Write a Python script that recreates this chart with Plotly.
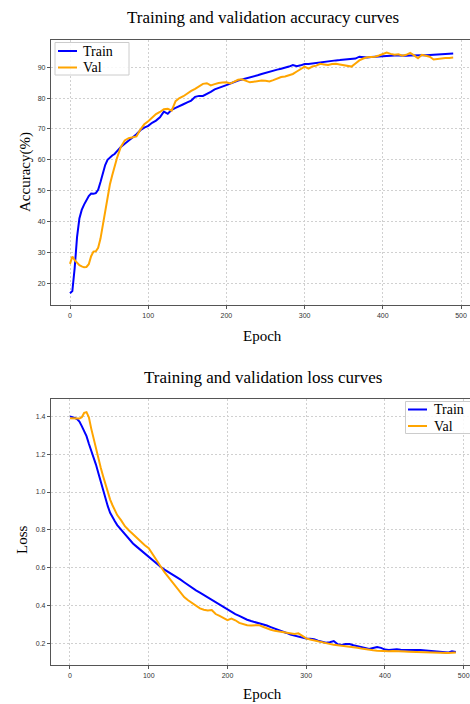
import plotly.graph_objects as go

W, H = 470, 704

epochs = list(range(0, 61, 3)) + list(range(65, 491, 5))

# ---------------- Accuracy (%) ----------------
train_acc = [
    # 0..60 step 3
    16.8, 17.5, 25.0, 35.0, 41.0, 43.8, 45.5, 47.0, 48.3, 49.1, 49.0,
    49.2, 50.3, 52.8, 55.8, 58.3, 60.0, 60.8, 61.4, 61.9, 62.8,
    # 65..110
    64.2, 65.2, 66.1, 67.2, 68.3, 69.6, 70.4, 71.0, 72.0, 72.7,
    # 115..160
    73.8, 75.6, 74.9, 76.2, 76.8, 77.5, 78.0, 78.6, 79.2, 80.4,
    # 165..210
    80.7, 80.7, 81.3, 82.0, 82.8, 83.2, 83.8, 84.2, 84.7, 85.3,
    # 215..260
    85.7, 86.0, 86.3, 86.8, 87.1, 87.4, 87.8, 88.2, 88.5, 89.0,
    # 265..310
    89.2, 89.5, 89.8, 90.2, 90.7, 90.3, 90.6, 91.0, 91.0, 91.2,
    # 315..360
    91.3, 91.6, 91.8, 92.0, 92.2, 92.2, 92.3, 92.4, 92.5, 92.5,
    # 365..410
    92.8, 93.4, 93.2, 93.1, 93.3, 93.4, 93.4, 93.6, 93.8, 93.8,
    # 415..460
    93.8, 93.8, 93.7, 93.7, 93.8, 93.9, 93.9, 93.9, 93.9, 94.0,
    # 465..490
    94.1, 94.1, 94.1, 94.2, 94.3, 94.4,
]
val_acc = [
    # 0..60 step 3
    26.3, 28.7, 27.5, 26.5, 25.9, 25.5, 25.2, 25.3, 26.2, 28.8, 30.3,
    30.4, 31.5, 34.5, 39.0, 43.5, 48.0, 52.0, 55.0, 58.2, 60.5,
    # 65..110
    64.2, 66.3, 67.0, 67.2, 67.6, 69.8, 71.5, 72.5, 73.8, 74.8,
    # 115..160
    75.5, 76.4, 76.5, 75.9, 79.0, 80.0, 80.6, 81.5, 82.3, 83.0,
    # 165..210
    83.8, 84.6, 84.8, 84.1, 84.5, 84.9, 85.0, 85.1, 84.7, 85.3,
    # 215..260
    85.9, 86.1, 85.7, 85.1, 85.3, 85.6, 85.7, 85.6, 85.4, 85.8,
    # 265..310
    86.4, 86.8, 87.0, 87.3, 87.8, 88.6, 89.4, 90.2, 89.5, 90.2,
    # 315..360
    90.5, 91.1, 90.9, 90.7, 91.0, 91.1, 90.9, 90.7, 90.5, 90.2,
    # 365..410
    91.2, 92.2, 92.8, 93.2, 93.3, 93.4, 93.8, 94.3, 94.7, 94.3,
    # 415..460
    94.0, 94.2, 93.7, 94.0, 94.6, 93.8, 92.9, 94.0, 93.8, 93.4,
    # 465..490
    92.5, 92.7, 92.9, 93.0, 93.0, 93.1,
]

# ---------------- Loss ----------------
train_loss = [
    # 0..60 step 3
    1.400, 1.398, 1.392, 1.385, 1.372, 1.348, 1.325, 1.295, 1.255, 1.220, 1.185,
    1.145, 1.100, 1.055, 1.010, 0.965, 0.925, 0.890, 0.865, 0.845, 0.825,
    # 65..110
    0.800, 0.775, 0.750, 0.728, 0.710, 0.692, 0.672, 0.655, 0.640, 0.622,
    # 115..160
    0.605, 0.590, 0.578, 0.563, 0.552, 0.538, 0.523, 0.508, 0.493, 0.480,
    # 165..210
    0.468, 0.455, 0.443, 0.430, 0.418, 0.405, 0.392, 0.380, 0.368, 0.355,
    # 215..260
    0.345, 0.333, 0.325, 0.318, 0.313, 0.306, 0.300, 0.294, 0.286, 0.279,
    # 265..310
    0.272, 0.263, 0.255, 0.246, 0.240, 0.234, 0.229, 0.226, 0.224, 0.222,
    # 315..360
    0.214, 0.208, 0.203, 0.206, 0.212, 0.195, 0.192, 0.196, 0.196, 0.190,
    # 365..410
    0.184, 0.180, 0.173, 0.170, 0.175, 0.180, 0.176, 0.167, 0.165, 0.167,
    # 415..460
    0.169, 0.166, 0.165, 0.166, 0.165, 0.165, 0.165, 0.163, 0.162, 0.160,
    # 465..490
    0.158, 0.156, 0.153, 0.151, 0.158, 0.154,
]
val_loss = [
    # 0..60 step 3
    1.390, 1.389, 1.388, 1.387, 1.388, 1.395, 1.418, 1.422, 1.395, 1.335, 1.280,
    1.230, 1.180, 1.130, 1.085, 1.040, 1.000, 0.960, 0.930, 0.900, 0.878,
    # 65..110
    0.850, 0.818, 0.797, 0.778, 0.757, 0.735, 0.718, 0.703, 0.670, 0.635,
    # 115..160
    0.605, 0.576, 0.550, 0.525, 0.495, 0.470, 0.445, 0.428, 0.413, 0.398,
    # 165..210
    0.385, 0.378, 0.374, 0.376, 0.355, 0.345, 0.335, 0.323, 0.331, 0.322,
    # 215..260
    0.308, 0.300, 0.296, 0.295, 0.295, 0.296, 0.288, 0.278, 0.272, 0.267,
    # 265..310
    0.264, 0.262, 0.260, 0.255, 0.250, 0.253, 0.240, 0.226, 0.220, 0.215,
    # 315..360
    0.210, 0.206, 0.202, 0.198, 0.192, 0.190, 0.188, 0.186, 0.183, 0.180,
    # 365..410
    0.177, 0.173, 0.169, 0.166, 0.163, 0.161, 0.159, 0.157, 0.158, 0.160,
    # 415..460
    0.158, 0.157, 0.157, 0.156, 0.155, 0.155, 0.154, 0.153, 0.152, 0.151,
    # 465..490
    0.151, 0.150, 0.148, 0.149, 0.150, 0.151,
]

x_ticks = [0, 100, 200, 300, 400, 500]
acc_ticks = [20, 30, 40, 50, 60, 70, 80, 90]
loss_ticks = [0.2, 0.4, 0.6, 0.8, 1.0, 1.2, 1.4]
loss_tick_text = ["0.2", "0.4", "0.6", "0.8", "1.0", "1.2", "1.4"]

TITLES = ["Training and validation accuracy curves", "Training and validation loss curves"]
SERIES_NAMES = ["Train", "Val"]

BLUE = "#0000ff"
ORANGE = "#ffa500"
COLORS = [BLUE, ORANGE]
SERIF = "Liberation Serif, Times New Roman, serif"
SANS = "Liberation Sans, Arial, sans-serif"


def px_x(p):
    return p / W


def px_y(p):
    return 1 - p / H


fig = go.Figure()

fig.add_trace(go.Scatter(x=epochs, y=train_acc, mode="lines", name=SERIES_NAMES[0],
                         line=dict(color=BLUE, width=2), xaxis="x", yaxis="y"))
fig.add_trace(go.Scatter(x=epochs, y=val_acc, mode="lines", name=SERIES_NAMES[1],
                         line=dict(color=ORANGE, width=2), xaxis="x", yaxis="y"))
fig.add_trace(go.Scatter(x=epochs, y=train_loss, mode="lines", name=SERIES_NAMES[0],
                         line=dict(color=BLUE, width=2), xaxis="x2", yaxis="y2"))
fig.add_trace(go.Scatter(x=epochs, y=val_loss, mode="lines", name=SERIES_NAMES[1],
                         line=dict(color=ORANGE, width=2), xaxis="x2", yaxis="y2"))

axis_common = dict(
    showline=True, linecolor="#555555", linewidth=1.2,
    ticks="outside", ticklen=3, tickwidth=0.8, tickcolor="#555555",
    tickfont=dict(family=SANS, size=7, color="#333333"),
    showgrid=True, gridcolor="#d0d0d0", gridwidth=0.7, griddash="2px,2px",
    zeroline=False,
)

fig.update_layout(
    width=W, height=H,
    margin=dict(l=0, r=0, t=0, b=0),
    paper_bgcolor="white", plot_bgcolor="white",
    showlegend=False,
    xaxis=dict(domain=[px_x(51), 1], range=[-24.3, 511.5], anchor="y",
               tickvals=x_ticks, mirror=True, **axis_common),
    yaxis=dict(domain=[px_y(305), px_y(40)], range=[13.0, 98.8], anchor="x",
               tickvals=acc_ticks, **axis_common),
    xaxis2=dict(domain=[px_x(51), 1], range=[-24.1, 508.0], anchor="y2",
                tickvals=x_ticks, mirror=True, **axis_common),
    yaxis2=dict(domain=[px_y(665.3), px_y(399.3)], range=[0.084, 1.49], anchor="x2",
                tickvals=loss_ticks, ticktext=loss_tick_text, **axis_common),
)

ann = [
    dict(text=TITLES[0], x=px_x(263), y=px_y(18), font=dict(family=SERIF, size=17, color="black")),
    dict(text="Epoch", x=px_x(262), y=px_y(336), font=dict(family=SERIF, size=15, color="black")),
    dict(text="Accuracy(%)", x=px_x(25), y=px_y(172), textangle=-90,
         font=dict(family=SERIF, size=15, color="black")),
    dict(text=TITLES[1], x=px_x(263), y=px_y(377), font=dict(family=SERIF, size=17, color="black")),
    dict(text="Epoch", x=px_x(262), y=px_y(694), font=dict(family=SERIF, size=15, color="black")),
    dict(text="Loss", x=px_x(22), y=px_y(540), textangle=-90,
         font=dict(family=SERIF, size=15, color="black")),
]
for a in ann:
    fig.add_annotation(xref="paper", yref="paper", showarrow=False,
                       xanchor="center", yanchor="middle", **a)

# Legend boxes (drawn by hand so that the compact spacing of the original is kept)
legends = [
    dict(box=(55, 42.5, 129, 75), lx=(58, 77), tx=82, rows=(51, 67.5)),
    dict(box=(405.5, 401.5, 472, 433.5), lx=(408, 427), tx=433, rows=(409.5, 426)),
]
for lg in legends:
    x0, y0, x1, y1 = lg["box"]
    fig.add_shape(type="rect", xref="paper", yref="paper",
                  x0=px_x(x0), x1=px_x(x1), y0=px_y(y1), y1=px_y(y0),
                  fillcolor="rgba(255,255,255,0.85)", line=dict(color="#cccccc", width=1),
                  layer="above")
    for name, color, ry in zip(SERIES_NAMES, COLORS, lg["rows"]):
        fig.add_shape(type="line", xref="paper", yref="paper",
                      x0=px_x(lg["lx"][0]), x1=px_x(lg["lx"][1]), y0=px_y(ry), y1=px_y(ry),
                      line=dict(color=color, width=2), layer="above")
        fig.add_annotation(xref="paper", yref="paper", showarrow=False,
                           x=px_x(lg["tx"]), y=px_y(ry), xanchor="left", yanchor="middle",
                           text=name, font=dict(family=SERIF, size=14, color="black"),
                           borderpad=0)

fig.write_html("out.html", config={"displayModeBar": False},
               post_script="document.body.style.margin='0';")
